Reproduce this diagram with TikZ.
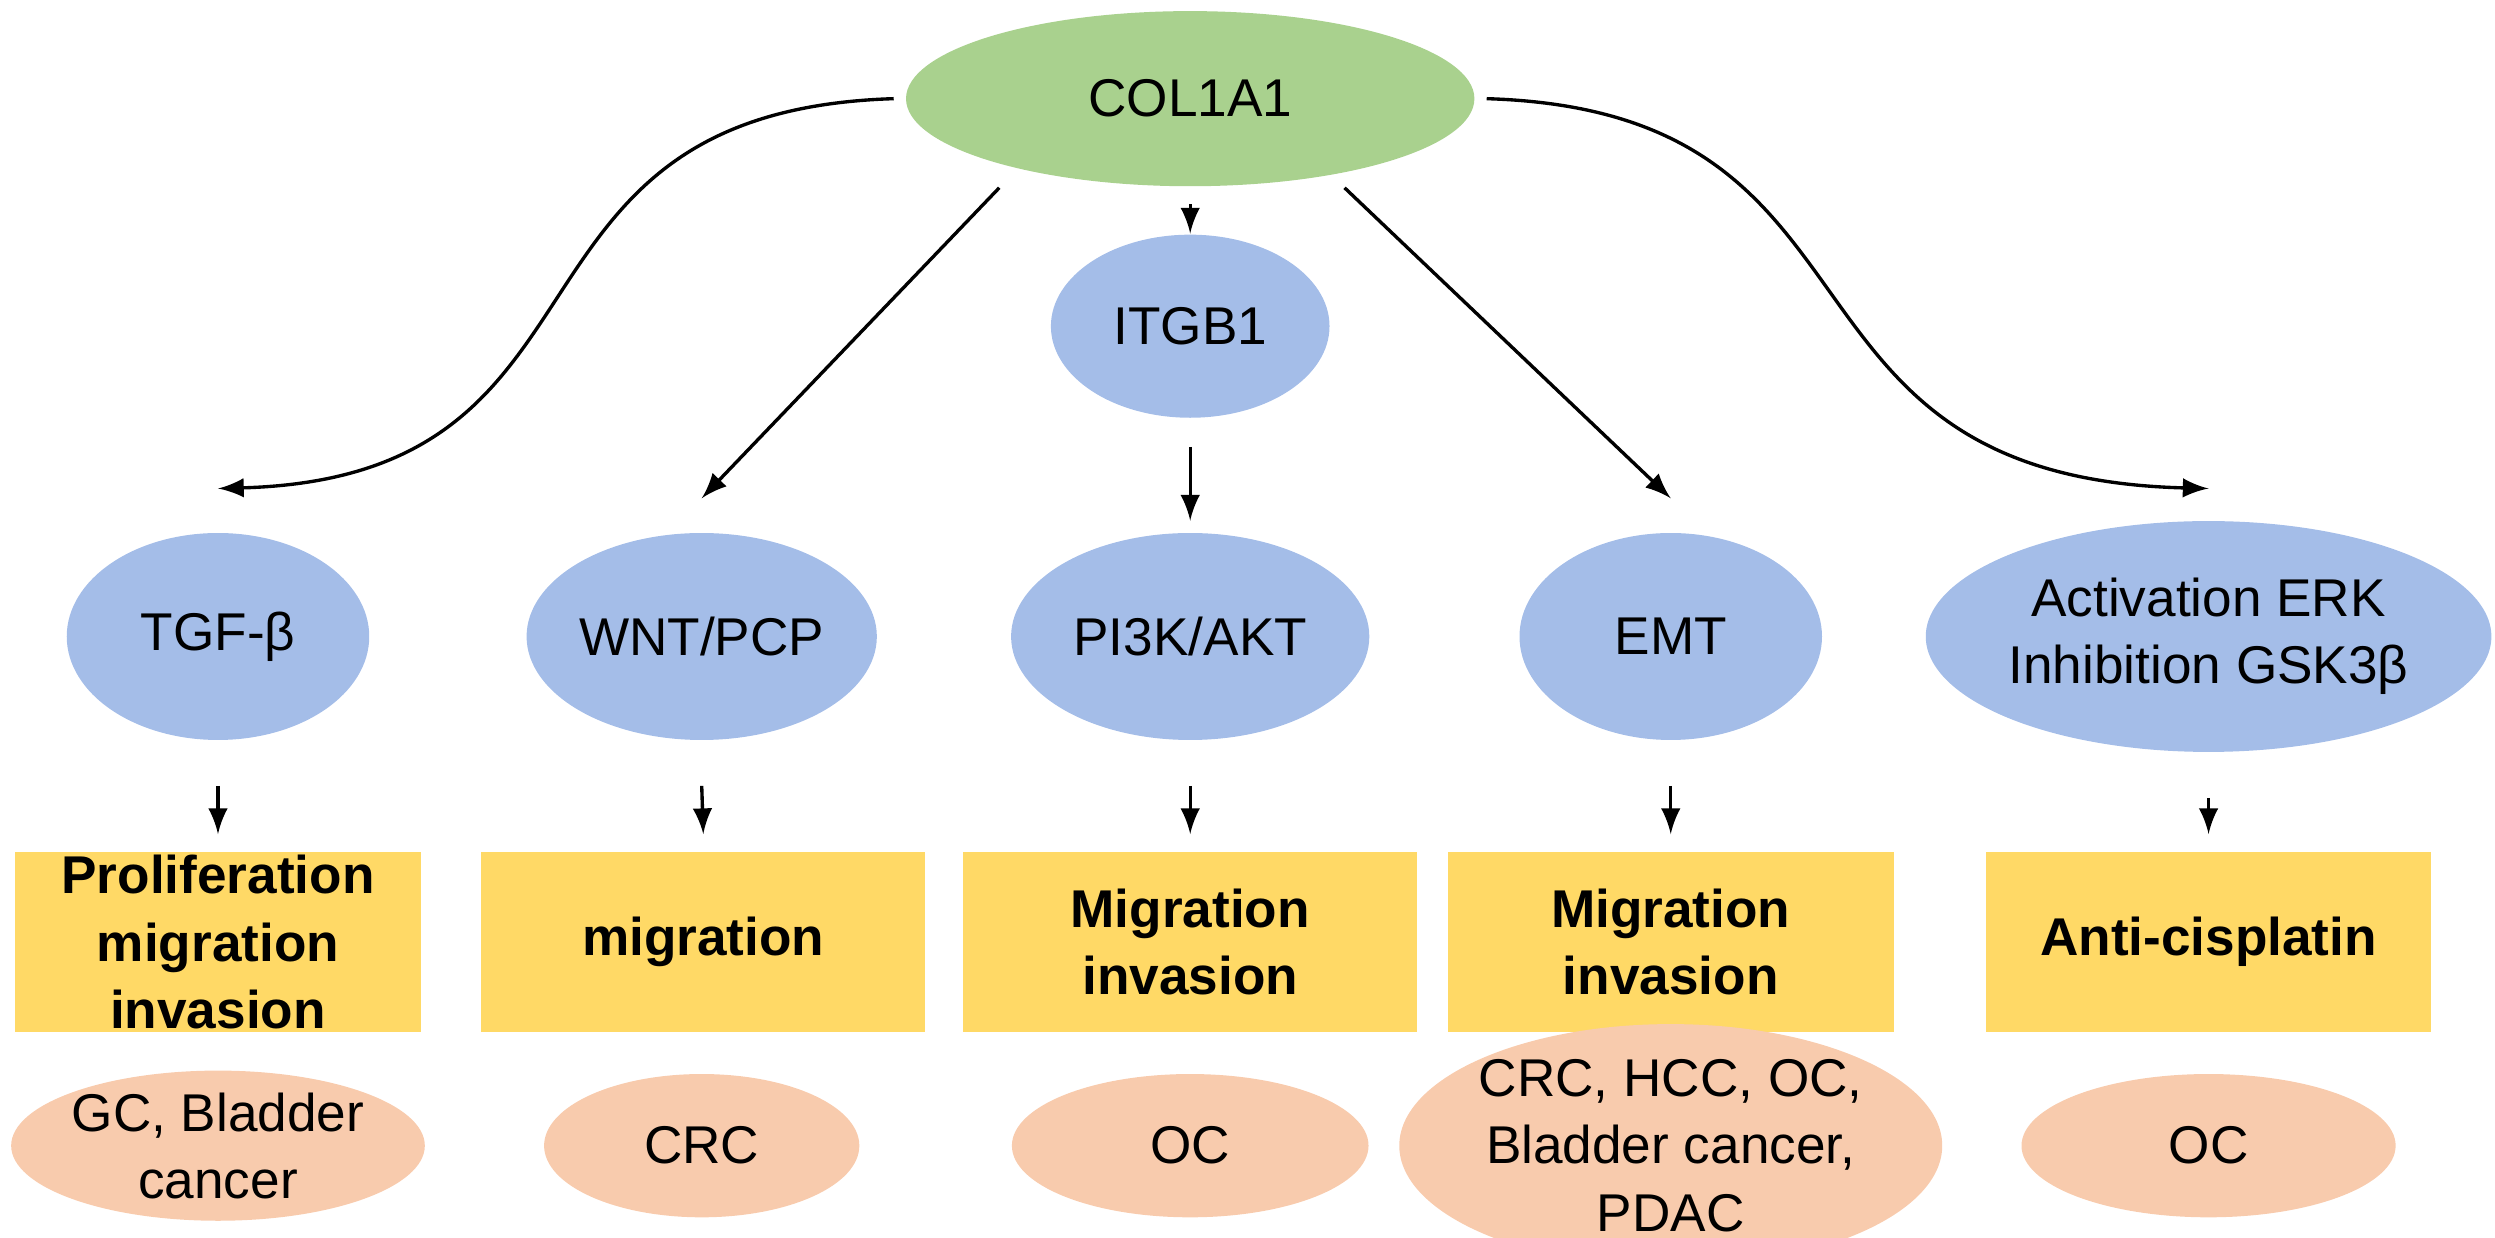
\documentclass[tikz,border=0pt]{standalone}
\usepackage{fontspec}
\setmainfont{Liberation Sans}
\usetikzlibrary{shapes.geometric}
\definecolor{leafgreen}{HTML}{A9D18E}
\definecolor{pathblue}{HTML}{A4BDE8}
\definecolor{effyellow}{HTML}{FFD966}
\definecolor{peach}{HTML}{F8CBAD}
\begin{document}
\begin{tikzpicture}[
   x=0.01cm, y=-0.01cm,
   >=latex,
   every node/.append style={align=center, font=\fontsize{9.5}{12}\selectfont, inner sep=0pt},
   gene/.style={ellipse, fill=leafgreen, minimum width=3.57cm, minimum height=1.1cm},
   path/.style={ellipse, fill=pathblue, minimum height=1.3cm},
   effect/.style={rectangle, fill=effyellow, minimum height=1.13cm, font=\fontsize{9.5}{12}\selectfont\bfseries},
   cancer/.style={ellipse, fill=peach, minimum height=0.9cm},
   link/.style={->, semithick}
]
\useasboundingbox (0,0) rectangle (1568,778);
\node[gene] (col) at (748,62) {COL1A1};
\node[path, minimum width=1.75cm, minimum height=1.15cm] (itgb) at (748,205) {ITGB1};
% pathways
\node[path, minimum width=1.9cm]  (tgf) at (137,400) {TGF-β};
\node[path, minimum width=2.2cm]  (wnt) at (441,400) {WNT/PCP};
\node[path, minimum width=2.25cm] (pi3k) at (748,400) {PI3K/AKT};
\node[path, minimum width=1.9cm]  (emt) at (1050,400) {EMT};
\node[path, minimum width=3.15cm, minimum height=1.45cm] (erk) at (1388,400) {Activation ERK\\Inhibition GSK3β};
% effects
\node[effect, minimum width=2.55cm] (e1) at (137,592) {Proliferation\\migration\\invasion};
\node[effect, minimum width=2.79cm] (e2) at (442,592) {migration};
\node[effect, minimum width=2.85cm] (e3) at (748,592) {Migration\\invasion};
\node[effect, minimum width=2.8cm]  (e4) at (1050,592) {Migration\\invasion};
\node[effect, minimum width=2.8cm]  (e5) at (1388,592) {Anti-cisplatin};
% cancers
\node[cancer, minimum width=2.5cm]  (c1) at (137,720) {GC, Bladder\\cancer};
\node[cancer, minimum width=1.98cm] (c2) at (441,720) {CRC};
\node[cancer, minimum width=2.24cm] (c3) at (748,720) {OC};
\node[cancer, minimum width=3.4cm, minimum height=1.1cm] (c4) at (1050,720) {CRC, HCC, OC,\\Bladder cancer,\\PDAC};
\node[cancer, minimum width=2.35cm] (c5) at (1388,720) {OC};
% connectors
\coordinate (tgfin) at (137,307);
\coordinate (erkin) at (1388,307);
\coordinate (wa) at (628,118);
\coordinate (ea) at (845,118);
\draw[link] ([xshift=-2pt]col.west) .. controls (300,70) and (400,300) .. (tgfin);
\draw[link] ([xshift=2pt]col.east) .. controls (1200,70) and (1100,300) .. (erkin);
\draw[link] (wa) -- ([yshift=6pt]wnt.north);
\draw[link] (ea) -- ([yshift=6pt]emt.north);
\draw[link] ([yshift=-3pt]col.south) -- (itgb.north);
\draw[link] ([yshift=-5pt]itgb.south) -- ([yshift=2pt]pi3k.north);
\foreach \p/\e in {tgf/e1, wnt/e2, pi3k/e3, emt/e4, erk/e5}
  \draw[link] ([yshift=-8pt]\p.south) -- ([yshift=3pt]\e.north);
\end{tikzpicture}
\end{document}
